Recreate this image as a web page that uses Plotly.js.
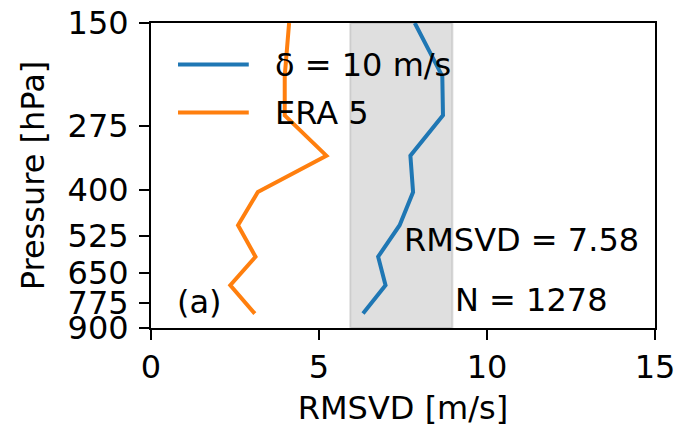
<!DOCTYPE html>
<html>
<head>
<meta charset="utf-8">
<script src="https://cdn.plot.ly/plotly-3.0.1.min.js"></script>
<style>html,body{margin:0;padding:0;background:#fff;}#chart{width:677px;height:427px;}</style>
</head>
<body>
<div id="chart"></div>
<script>
// Data
const pressure = [150, 205, 258, 327, 405, 492, 592, 700, 827];      // hPa
const delta10 = [7.85, 8.67, 8.69, 7.72, 7.80, 7.40, 6.76, 6.98, 6.31]; // δ = 10 m/s
const era5 = [4.11, 3.98, 3.98, 5.22, 3.18, 2.59, 3.11, 2.36, 3.09];    // ERA 5
const bandRange = [5.93, 8.97];
const yTicks = [150, 275, 400, 525, 650, 775, 900];
const xTicks = [0, 5, 10, 15];
const seriesNames = ['δ = 10 m/s', 'ERA 5'];
const seriesColors = ['#1f77b4', '#ff7f0e'];
const rmsvdText = 'RMSVD = 7.58';
const nText = 'N = 1278';
const panelText = '(a)';

const FONT = 'DejaVu Sans, sans-serif';
const FS = 32;

const traces = [
  {x: delta10, y: pressure, name: seriesNames[0], mode: 'lines',
   line: {color: seriesColors[0], width: 4}, showlegend: false},
  {x: era5, y: pressure, name: seriesNames[1], mode: 'lines',
   line: {color: seriesColors[1], width: 4}, showlegend: false}
];

const layout = {
  width: 677, height: 427,
  margin: {l: 151, r: 22, t: 23, b: 99},
  paper_bgcolor: '#fff', plot_bgcolor: '#fff',
  font: {family: FONT, size: FS, color: '#000'},
  showlegend: false,
  xaxis: {
    range: [0, 15], tickvals: xTicks, ticktext: xTicks.map(String),
    showgrid: false, zeroline: false, showline: true, mirror: true,
    linecolor: '#000', linewidth: 2, ticks: 'outside', ticklen: 10, tickwidth: 2,
    tickcolor: '#000', tickfont: {family: FONT, size: FS, color: '#000'},
    title: {text: 'RMSVD [m/s]', font: {family: FONT, size: FS, color: '#000'}, standoff: 11}
  },
  yaxis: {
    type: 'log', range: [Math.log10(900), Math.log10(150)],
    tickvals: yTicks, ticktext: yTicks.map(String),
    showgrid: false, zeroline: false, showline: true, mirror: true,
    linecolor: '#000', linewidth: 2, ticks: 'outside', ticklen: 10, tickwidth: 2,
    tickcolor: '#000', tickfont: {family: FONT, size: FS, color: '#000'},
    ticklabelstandoff: 4,
    title: {text: 'Pressure [hPa]', font: {family: FONT, size: FS, color: '#000'}, standoff: 13}
  },
  shapes: [
    {type: 'rect', xref: 'x', yref: 'paper', x0: bandRange[0], x1: bandRange[1], y0: 0, y1: 1,
     fillcolor: 'rgba(128,128,128,0.25)', line: {color: 'rgba(128,128,128,0.25)', width: 2}, layer: 'below'},
    {type: 'line', xref: 'paper', yref: 'paper', x0: 0.0536, x1: 0.194, y0: 0.8636, y1: 0.8636,
     line: {color: seriesColors[0], width: 4}},
    {type: 'line', xref: 'paper', yref: 'paper', x0: 0.0536, x1: 0.194, y0: 0.7062, y1: 0.7062,
     line: {color: seriesColors[1], width: 4}}
  ],
  annotations: [
    {text: seriesNames[0], xref: 'paper', yref: 'paper', x: 0.2425, y: 0.8636,
     xanchor: 'left', yanchor: 'middle', showarrow: false, font: {family: FONT, size: FS, color: '#000'}},
    {text: seriesNames[1], xref: 'paper', yref: 'paper', x: 0.2425, y: 0.7062,
     xanchor: 'left', yanchor: 'middle', showarrow: false, font: {family: FONT, size: FS, color: '#000'}},
    {text: rmsvdText, xref: 'paper', yref: 'paper', x: 0.498, y: 0.2875,
     xanchor: 'left', yanchor: 'middle', showarrow: false, font: {family: FONT, size: FS, color: '#000'}},
    {text: nText, xref: 'paper', yref: 'paper', x: 0.599, y: 0.0925,
     xanchor: 'left', yanchor: 'middle', showarrow: false, font: {family: FONT, size: FS, color: '#000'}},
    {text: panelText, xref: 'paper', yref: 'paper', x: 0.047, y: 0.0866,
     xanchor: 'left', yanchor: 'middle', showarrow: false, font: {family: FONT, size: FS, color: '#000'}}
  ]
};

Plotly.newPlot('chart', traces, layout, {displayModeBar: false, staticPlot: true});
</script>
</body>
</html>
